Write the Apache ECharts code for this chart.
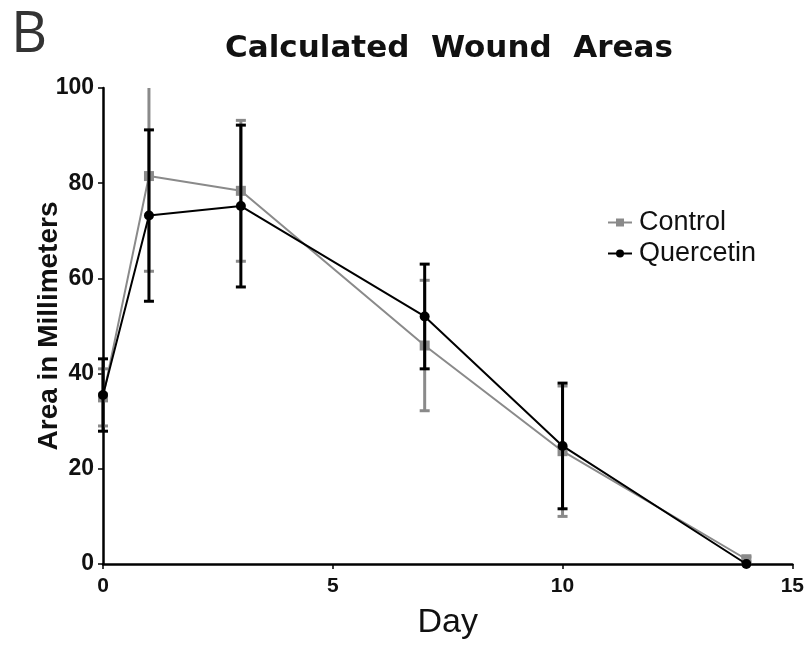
<!DOCTYPE html>
<html>
<head>
<meta charset="utf-8">
<script src="https://cdn.jsdelivr.net/npm/echarts@6/dist/echarts.min.js"></script>
<style>
  html, body { margin: 0; padding: 0; background: #fff; }
  #chart { width: 807px; height: 645px; }
</style>
</head>
<body>
<div id="chart"></div>
<script>
// data
const days = [0, 1, 3, 7, 10, 14];
const controlMean = [35.0, 81.5, 78.4, 45.9, 23.7, 1.0];
const controlErr = [6.0, 20.0, 14.8, 13.7, 13.7, 0.5];
const quercetinMean = [35.5, 73.2, 75.2, 52.0, 24.8, 0.0];
const quercetinErr = [7.6, 18.0, 17.0, 11.0, 13.2, 0.0];
const xTicks = [0, 5, 10, 15];
const yTicks = [0, 20, 40, 60, 80, 100];

const font = 'Liberation Sans, Arial, sans-serif';

const toPairs = (xs, ys) => xs.map((x, i) => [x, ys[i]]);
const toErr = (xs, ys, es) => xs.map((x, i) => [x, ys[i] - es[i], ys[i] + es[i]]);

// error bars as custom series, clipped to the grid
const errorBars = (name, data, color, width, z) => ({
  name: name,
  type: 'custom',
  silent: true,
  data: data,
  z: z,
  renderItem: function (params, api) {
    const cs = params.coordSys;
    const top = api.coord([api.value(0), api.value(2)]);
    const bot = api.coord([api.value(0), api.value(1)]);
    const x = top[0];
    const yTop = Math.max(top[1], cs.y);
    const yBot = Math.min(bot[1], cs.y + cs.height);
    if (yBot - yTop < 0.5) return null;
    const capW = 5;
    const style = { stroke: color, lineWidth: width };
    const children = [
      { type: 'line', shape: { x1: x, y1: yTop, x2: x, y2: yBot }, style: style }
    ];
    if (top[1] >= cs.y) {
      children.push({ type: 'line', shape: { x1: x - capW, y1: top[1], x2: x + capW, y2: top[1] }, style: style });
    }
    if (bot[1] <= cs.y + cs.height) {
      children.push({ type: 'line', shape: { x1: x - capW, y1: bot[1], x2: x + capW, y2: bot[1] }, style: style });
    }
    return { type: 'group', children: children };
  }
});

const chart = echarts.init(document.getElementById('chart'));

chart.setOption({
  animation: false,
  backgroundColor: '#fff',
  title: [
    {
      text: 'B',
      left: 6,
      top: 3,
      textStyle: { fontFamily: 'Open Sans, sans-serif', fontSize: 56, fontWeight: 'normal', color: '#333' }
    },
    {
      text: 'Calculated  Wound  Areas',
      left: 444,
      textAlign: 'center',
      top: 28,
      textStyle: { fontFamily: 'DejaVu Sans, sans-serif', fontSize: 31, fontWeight: 'bold', color: '#111' }
    }
  ],
  legend: {
    orient: 'vertical',
    left: 602,
    top: 204,
    itemGap: 4,
    itemWidth: 24,
    itemHeight: 10,
    data: ['Control', 'Quercetin'],
    textStyle: { fontFamily: font, fontSize: 27, color: '#111', padding: [0, 0, 0, 2] }
  },
  grid: { left: 103, right: 12, top: 88, bottom: 79, containLabel: false },
  xAxis: {
    type: 'value',
    min: 0,
    max: 15,
    interval: 5,
    name: 'Day',
    nameLocation: 'middle',
    nameGap: 42,
    nameMoveOverlap: false,
    nameTextStyle: { fontFamily: font, fontSize: 34, color: '#111' },
    axisLine: { show: true, lineStyle: { color: '#000', width: 2.5 } },
    axisTick: { show: true, length: 5, lineStyle: { color: '#000', width: 1.5 } },
    axisLabel: {
      fontFamily: font, fontSize: 21, fontWeight: 'bold', color: '#111', margin: 12,
      formatter: v => (xTicks.indexOf(v) >= 0 ? String(v) : '')
    },
    splitLine: { show: false }
  },
  yAxis: {
    type: 'value',
    min: 0,
    max: 100,
    interval: 20,
    name: 'Area in Millimeters',
    nameLocation: 'middle',
    nameGap: 40,
    nameMoveOverlap: false,
    nameTextStyle: { fontFamily: font, fontSize: 28, fontWeight: 'bold', color: '#111' },
    axisLine: { show: true, lineStyle: { color: '#000', width: 2.5 } },
    axisTick: { show: true, length: 5, lineStyle: { color: '#000', width: 1.5 } },
    axisLabel: {
      fontFamily: font, fontSize: 23, fontWeight: 'bold', color: '#111', margin: 9,
      formatter: v => (yTicks.indexOf(v) >= 0 ? String(v) : '')
    },
    splitLine: { show: false }
  },
  series: [
    errorBars('ControlErr', toErr(days, controlMean, controlErr), '#8a8a8a', 3, 2),
    errorBars('QuercetinErr', toErr(days, quercetinMean, quercetinErr), '#000', 3, 4),
    {
      name: 'Control',
      type: 'line',
      data: toPairs(days, controlMean),
      symbol: 'rect',
      symbolSize: 10,
      z: 3,
      lineStyle: { color: '#8a8a8a', width: 2 },
      itemStyle: { color: '#8a8a8a' }
    },
    {
      name: 'Quercetin',
      type: 'line',
      data: toPairs(days, quercetinMean),
      symbol: 'circle',
      symbolSize: 10,
      z: 5,
      lineStyle: { color: '#000', width: 2 },
      itemStyle: { color: '#000' }
    }
  ]
});
</script>
</body>
</html>
